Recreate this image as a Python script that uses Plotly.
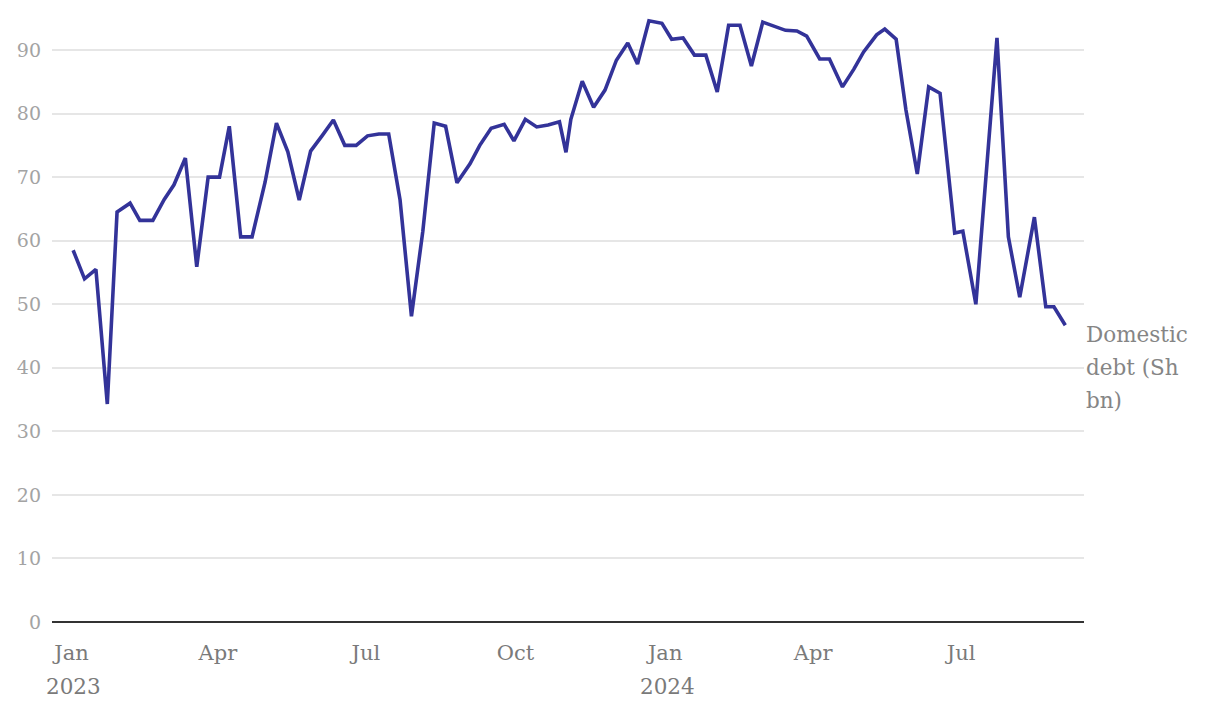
import plotly.graph_objects as go

dates = [
    "2023-01-02", "2023-01-09", "2023-01-16", "2023-01-23", "2023-01-29", "2023-02-06",
    "2023-02-12", "2023-02-20", "2023-02-27", "2023-03-05", "2023-03-12", "2023-03-19",
    "2023-03-26", "2023-04-02", "2023-04-08", "2023-04-15", "2023-04-22", "2023-04-30",
    "2023-05-07", "2023-05-14", "2023-05-21", "2023-05-28", "2023-06-04", "2023-06-11",
    "2023-06-18", "2023-06-25", "2023-07-02", "2023-07-09", "2023-07-15", "2023-07-22",
    "2023-07-29", "2023-08-05", "2023-08-12", "2023-08-19", "2023-08-26", "2023-09-03",
    "2023-09-09", "2023-09-16", "2023-09-24", "2023-09-30", "2023-10-07", "2023-10-14",
    "2023-10-21", "2023-10-28", "2023-11-01", "2023-11-04", "2023-11-11", "2023-11-18",
    "2023-11-25", "2023-12-02", "2023-12-09", "2023-12-15", "2023-12-22", "2023-12-30",
    "2024-01-05", "2024-01-12", "2024-01-19", "2024-01-26", "2024-02-02", "2024-02-09",
    "2024-02-16", "2024-02-23", "2024-03-01", "2024-03-07", "2024-03-15", "2024-03-22",
    "2024-03-28", "2024-04-05", "2024-04-11", "2024-04-19", "2024-04-26", "2024-05-02",
    "2024-05-10", "2024-05-15", "2024-05-22", "2024-05-28", "2024-06-04", "2024-06-11",
    "2024-06-18", "2024-06-27", "2024-07-02", "2024-07-10", "2024-07-16", "2024-07-23",
    "2024-07-30", "2024-08-06", "2024-08-15", "2024-08-22", "2024-08-27", "2024-09-03",
]

domestic_debt = [
    58.5, 54.0, 55.5, 34.3, 64.5, 65.9,
    63.2, 63.2, 66.5, 68.8, 73.0, 55.9,
    70.0, 70.0, 78.0, 60.6, 60.6, 69.2,
    78.5, 74.0, 66.4, 74.1, 76.5, 79.0,
    75.0, 75.0, 76.5, 76.8, 76.8, 66.4,
    48.1, 61.5, 78.5, 78.0, 69.1, 72.1,
    75.0, 77.7, 78.3, 75.7, 79.1, 77.9,
    78.2, 78.7, 73.9, 79.1, 85.1, 81.0,
    83.7, 88.4, 91.1, 87.8, 94.6, 94.2,
    91.7, 91.9, 89.2, 89.2, 83.4, 93.9,
    93.9, 87.5, 94.4, 93.8, 93.1, 93.0,
    92.2, 88.6, 88.6, 84.2, 87.0, 89.7,
    92.4, 93.3, 91.7, 80.6, 70.5, 84.2,
    83.2, 61.2, 61.5, 50.0, 68.6, 91.9,
    60.6, 51.1, 63.7, 49.6, 49.6, 46.7,
]

x_tick_vals = ["2023-01-01", "2023-04-01", "2023-07-01", "2023-10-01",
               "2024-01-01", "2024-04-01", "2024-07-01"]
x_tick_text = ["Jan", "Apr", "Jul", "Oct", "Jan", "Apr", "Jul"]
year_dates = ["2023-01-01", "2024-01-01"]
year_labels = ["2023", "2024"]
y_tick_vals = [0, 10, 20, 30, 40, 50, 60, 70, 80, 90]

series_label_lines = ["Domestic", "debt (Sh", "bn)"]

FONT = "DejaVu Serif"

fig = go.Figure()
fig.add_trace(go.Scatter(
    x=dates, y=domestic_debt, mode="lines",
    line=dict(color="#333399", width=3.6),
    hoverinfo="x+y", showlegend=False,
))

# series label beside the line end, one annotation per line
for i, line_txt in enumerate(series_label_lines):
    fig.add_annotation(
        x=1.0, xref="paper", xanchor="left", xshift=0,
        y=0.469, yref="paper", yanchor="middle", yshift=-33 * i,
        text=line_txt, showarrow=False, align="left",
        font=dict(family=FONT, size=21.5, color="#858585"),
    )

# year labels under January ticks
for d, lab in zip(year_dates, year_labels):
    fig.add_annotation(
        x=d, xref="x", xanchor="center", xshift=2,
        y=-0.106, yref="paper", yanchor="middle",
        text=lab, showarrow=False,
        font=dict(family=FONT, size=21.5, color="#7a7a7a"),
    )

fig.update_layout(
    width=1220, height=710,
    margin=dict(l=52, r=136, t=10, b=88),
    paper_bgcolor="white", plot_bgcolor="white",
    font=dict(family=FONT),
    xaxis=dict(
        type="date",
        range=["2022-12-20", "2024-09-14 12:00"],
        tickvals=x_tick_vals, ticktext=x_tick_text,
        showgrid=False, zeroline=False, showline=False,
        ticks="outside", ticklen=12, tickcolor="rgba(0,0,0,0)",
        tickfont=dict(family=FONT, size=21, color="#7a7a7a"),
    ),
    yaxis=dict(
        range=[0, 96.3],
        tickvals=y_tick_vals,
        showgrid=True, gridcolor="#e6e6e6", gridwidth=1.5,
        zeroline=True, zerolinecolor="#333333", zerolinewidth=2,
        showline=False, ticks="", ticklabelstandoff=10,
        tickfont=dict(family=FONT, size=19, color="#a3a3a3"),
    ),
)

fig.write_html("out.html")
